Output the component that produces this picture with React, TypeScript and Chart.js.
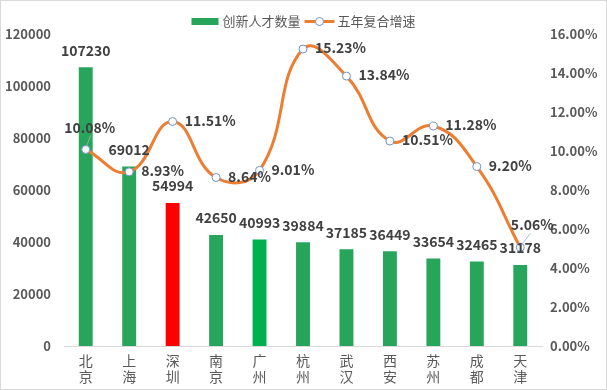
import React, { useEffect, useRef } from 'react';
import { Chart, registerables } from 'chart.js';

Chart.register(...registerables);

const categories: string[][] = [
  ['北', '京'], ['上', '海'], ['深', '圳'], ['南', '京'], ['广', '州'], ['杭', '州'],
  ['武', '汉'], ['西', '安'], ['苏', '州'], ['成', '都'], ['天', '津'],
];
const talentCounts = [107230, 69012, 54994, 42650, 40993, 39884, 37185, 36449, 33654, 32465, 31178];
const growthRates = [10.08, 8.93, 11.51, 8.64, 9.01, 15.23, 13.84, 10.51, 11.28, 9.2, 5.06];
const barColors = [
  '#27A55A', '#27A55A', '#FF0000', '#27A55A', '#00B050', '#27A55A',
  '#27A55A', '#27A55A', '#27A55A', '#27A55A', '#27A55A',
];
const growthLabelPlacement = [
  'above', 'right', 'right', 'right', 'right', 'right',
  'right', 'right', 'right', 'right', 'aboveRight',
];
const seriesNames = ['创新人才数量', '五年复合增速'];
const leftAxisMax = 120000;
const leftAxisStep = 20000;
const rightAxisMax = 16;
const rightAxisStep = 2;

const FONT = '"Noto Sans CJK SC", "Noto Sans", sans-serif';
const LINE_COLOR = '#ED7D31';
const POINT_BORDER = '#7393C8';
const LABEL_COLOR = '#404040';
const AXIS_COLOR = '#595959';

const labelPlugin = {
  id: 'customLabels',
  beforeDraw(chart: any) {
    const { ctx, width, height } = chart;
    ctx.save();
    ctx.fillStyle = '#ffffff';
    ctx.fillRect(0, 0, width, height);
    ctx.strokeStyle = '#d9d9d9';
    ctx.lineWidth = 1;
    ctx.strokeRect(0.5, 0.5, width - 1, height - 1);
    ctx.restore();
  },
  afterDatasetsDraw(chart: any) {
    const { ctx } = chart;
    ctx.save();
    ctx.font = `bold 14px ${FONT}`;
    ctx.fillStyle = LABEL_COLOR;
    // bar labels
    const barMeta = chart.getDatasetMeta(0);
    ctx.textAlign = 'center';
    ctx.textBaseline = 'middle';
    barMeta.data.forEach((el: any, i: number) => {
      ctx.fillText(String(talentCounts[i]), el.x, el.y - 17);
    });
    // line labels
    const lineMeta = chart.getDatasetMeta(1);
    lineMeta.data.forEach((el: any, i: number) => {
      const txt = growthRates[i].toFixed(2) + '%';
      const p = growthLabelPlacement[i];
      if (p === 'right') {
        ctx.textAlign = 'left';
        ctx.textBaseline = 'middle';
        ctx.fillText(txt, el.x + 12, el.y - 1);
      } else if (p === 'above') {
        ctx.strokeStyle = '#b0b0b0';
        ctx.lineWidth = 0.8;
        ctx.beginPath();
        ctx.moveTo(el.x + 1, el.y - 4);
        ctx.lineTo(el.x + 5, el.y - 14);
        ctx.stroke();
        ctx.textAlign = 'center';
        ctx.textBaseline = 'middle';
        ctx.fillText(txt, el.x + 4, el.y - 22);
      } else {
        ctx.strokeStyle = '#8faadc';
        ctx.lineWidth = 0.8;
        ctx.beginPath();
        ctx.moveTo(el.x + 1, el.y - 2);
        ctx.lineTo(el.x + 10, el.y - 14);
        ctx.stroke();
        ctx.textAlign = 'center';
        ctx.textBaseline = 'middle';
        ctx.fillText(txt, el.x + 12, el.y - 23);
      }
    });
    ctx.restore();
  },
  afterDraw(chart: any) {
    const { ctx } = chart;
    ctx.save();
    ctx.font = `13px ${FONT}`;
    const w1 = ctx.measureText(seriesNames[0]).width;
    const w2 = ctx.measureText(seriesNames[1]).width;
    const boxW = 27, lineW = 30, gap = 4;
    const total = boxW + gap + w1 + gap + lineW + 3 + w2;
    let x = 303.5 - total / 2;
    const cy = 21.5;
    ctx.fillStyle = '#27A55A';
    ctx.fillRect(x, cy - 3.5, boxW, 7);
    x += boxW + gap;
    ctx.fillStyle = AXIS_COLOR;
    ctx.textAlign = 'left';
    ctx.textBaseline = 'middle';
    ctx.fillText(seriesNames[0], x, cy);
    x += w1 + gap;
    ctx.strokeStyle = LINE_COLOR;
    ctx.lineWidth = 3;
    ctx.beginPath();
    ctx.moveTo(x, cy);
    ctx.lineTo(x + lineW, cy);
    ctx.stroke();
    ctx.beginPath();
    ctx.arc(x + lineW / 2, cy, 4, 0, Math.PI * 2);
    ctx.fillStyle = '#ffffff';
    ctx.fill();
    ctx.strokeStyle = POINT_BORDER;
    ctx.lineWidth = 1;
    ctx.stroke();
    x += lineW + 3;
    ctx.fillStyle = AXIS_COLOR;
    ctx.fillText(seriesNames[1], x, cy);
    ctx.restore();
  },
};

export default function App() {
  const ref = useRef<HTMLCanvasElement | null>(null);
  useEffect(() => {
    document.body.style.margin = '0';
    if (!ref.current) return;
    const chart = new Chart(ref.current, {
      type: 'bar',
      data: {
        labels: categories as any,
        datasets: [
          {
            type: 'bar',
            label: seriesNames[0],
            data: talentCounts,
            backgroundColor: barColors,
            barPercentage: 0.32,
            categoryPercentage: 1,
            yAxisID: 'y',
            order: 2,
          } as any,
          {
            type: 'line',
            label: seriesNames[1],
            data: growthRates,
            borderColor: LINE_COLOR,
            borderWidth: 3,
            tension: 0.45,
            pointRadius: 4,
            pointBackgroundColor: '#ffffff',
            pointBorderColor: POINT_BORDER,
            pointBorderWidth: 1,
            yAxisID: 'y1',
            order: 1,
          } as any,
        ],
      },
      options: {
        responsive: false,
        animation: false,
        layout: { padding: { top: 34, left: 0, right: 0, bottom: 0 } },
        plugins: {
          legend: { display: false },
          tooltip: { enabled: false },
        },
        scales: {
          x: {
            grid: { display: false, drawTicks: false },
            border: { display: true, color: '#d9d9d9', width: 1 },
            ticks: {
              font: { family: FONT, size: 14, lineHeight: 1.15 },
              color: AXIS_COLOR,
              padding: 7,
              maxRotation: 0,
              autoSkip: false,
            },
            afterFit: (s: any) => { s.height = 44; },
          },
          y: {
            position: 'left',
            min: 0,
            max: leftAxisMax,
            grid: { display: false, drawTicks: false },
            border: { display: false },
            ticks: {
              stepSize: leftAxisStep,
              font: { family: FONT, size: 13, weight: 'bold' },
              color: AXIS_COLOR,
              padding: 13,
              callback: (v: any) => String(v),
            },
            afterFit: (s: any) => { s.width = 64; },
          },
          y1: {
            position: 'right',
            min: 0,
            max: rightAxisMax,
            grid: { display: false, drawTicks: false },
            border: { display: false },
            ticks: {
              stepSize: rightAxisStep,
              font: { family: FONT, size: 13, weight: 'bold' },
              color: AXIS_COLOR,
              padding: 8,
              callback: (v: any) => Number(v).toFixed(2) + '%',
            },
            afterFit: (s: any) => { s.width = 65; },
          },
        },
      } as any,
      plugins: [labelPlugin],
    });
    return () => chart.destroy();
  }, []);
  return (
    <div style={{ width: 607, height: 390 }}>
      <canvas ref={ref} width={607} height={390} style={{ display: 'block' }} />
    </div>
  );
}
